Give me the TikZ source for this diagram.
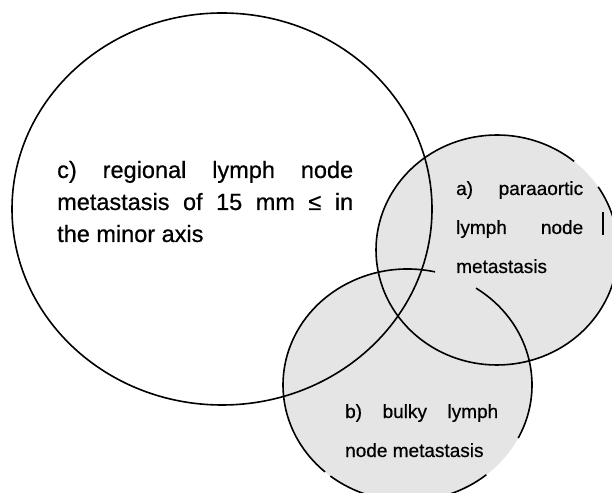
\documentclass[tikz,border=0pt]{standalone}
\usepackage{fontspec}
\setmainfont{Liberation Sans}[BoldFont=Liberation Sans, BoldFeatures={FakeBold=0.6}]
\begin{document}
\begin{tikzpicture}[x=1pt,y=1pt,
  ring/.style={line width=1.6pt, draw=black},
  shadefill/.style={fill=black!10},
  bigtxt/.style={inner sep=0pt, anchor=base west, font=\fontsize{23.5}{28}\selectfont\bfseries},
  smalltxt/.style={inner sep=0pt, anchor=base west, font=\fontsize{19}{23}\selectfont\bfseries}]
\clip (0,0) rectangle (612,492);
\fill[white] (0,0) rectangle (612,492);
\coordinate (ca) at (497,242);
\coordinate (cb) at (407.5,107);
\coordinate (cc) at (222,283);
% shaded circles a and b
\fill[shadefill] (ca) ellipse [x radius=121pt, y radius=115pt];
\fill[shadefill] (cb) ellipse [x radius=124.5pt, y radius=116pt];
% circle c
\draw[ring] (cc) ellipse [x radius=210pt, y radius=196pt];
% circle a (gap at upper right)
\draw[ring] (ca) ++(50.4:121pt and 115pt)
  arc[start angle=50.4, end angle=393.3, x radius=121pt, y radius=115pt];
% circle b (three gaps)
\draw[ring] (cb) ++(77.2:124.5pt and 116pt)
  arc[start angle=77.2, end angle=228.5, x radius=124.5pt, y radius=116pt];
\draw[ring] (cb) ++(231.7:124.5pt and 116pt)
  arc[start angle=231.7, end angle=309.3, x radius=124.5pt, y radius=116pt];
\draw[ring] (cb) ++(-27.2:124.5pt and 116pt)
  arc[start angle=-27.2, end angle=56.6, x radius=124.5pt, y radius=116pt];
% small tick at right edge
\coordinate (t1) at (603,280);
\coordinate (t2) at (603,257);
\draw[line width=1.2pt] (t1) -- (t2);
% text c
\node[bigtxt] (c1) at (57,314) {\makebox[296pt][s]{c) regional lymph node}};
\node[bigtxt] (c2) at (57,282) {\makebox[296pt][s]{metastasis of 15 mm ≤ in}};
\node[bigtxt] (c3) at (57,250) {the minor axis};
% text a
\node[smalltxt] (a1) at (456,297) {\makebox[127pt][s]{a) paraaortic}};
\node[smalltxt] (a2) at (456,258) {\makebox[127pt][s]{lymph node}};
\node[smalltxt] (a3) at (456,219) {metastasis};
% text b
\node[smalltxt] (b1) at (345,74) {\makebox[153pt][s]{b) bulky lymph}};
\node[smalltxt] (b2) at (345,35) {node metastasis};
\end{tikzpicture}
\end{document}
